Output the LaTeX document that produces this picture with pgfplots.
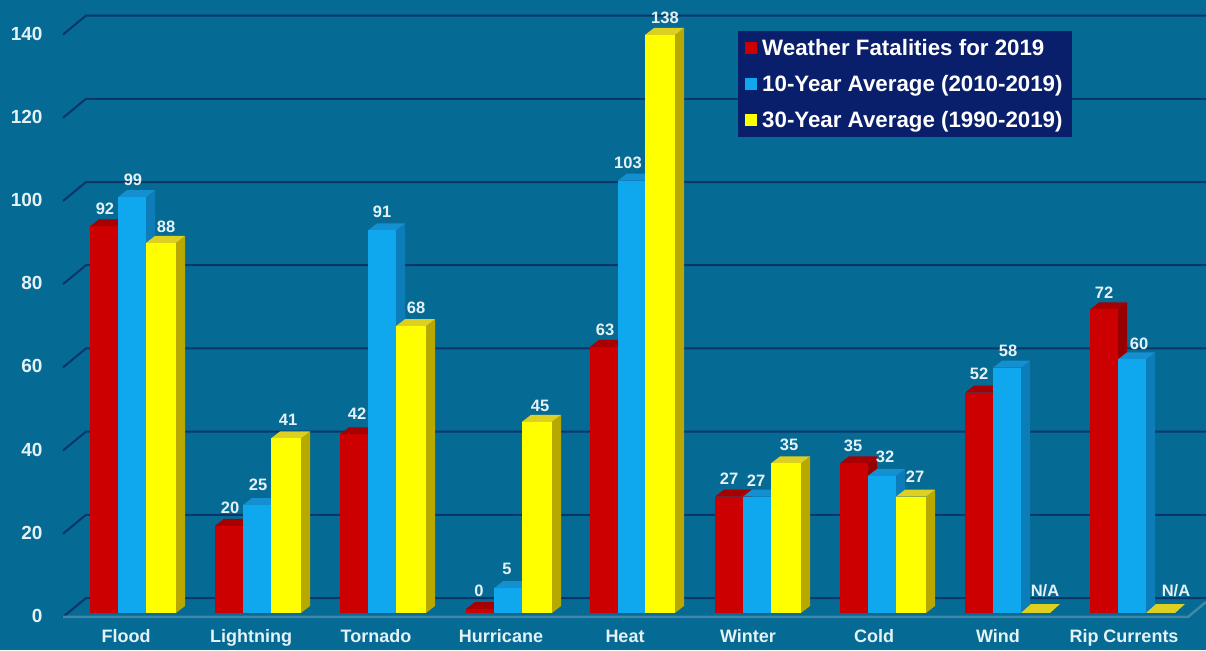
\documentclass[border=0pt]{standalone}
\usepackage{fontspec}
\setmainfont{Liberation Sans}
\usepackage{pgfplots}
\pgfplotsset{compat=1.18}

\definecolor{bgblue}{HTML}{056A94}
\definecolor{gridnavy}{HTML}{0A3568}
\definecolor{floorblue}{HTML}{3F88AA}
\definecolor{legendnavy}{HTML}{0A1F6B}
\definecolor{labelwhite}{HTML}{E4F2F6}
\definecolor{redfront}{HTML}{CC0000}
\definecolor{redside}{HTML}{960000}
\definecolor{redtop}{HTML}{A80000}
\definecolor{bluefront}{HTML}{0FA8EE}
\definecolor{blueside}{HTML}{0C7DB8}
\definecolor{bluetop}{HTML}{1490D0}
\definecolor{yellowfront}{HTML}{FFFF00}
\definecolor{yellowside}{HTML}{B8A800}
\definecolor{yellowtop}{HTML}{DDD020}

% one fake 3d bar: left edge, width, value, colour name
\newcommand{\threedbar}[4]{%
  \pgfmathsetmacro\xa{#1}%
  \pgfmathsetmacro\xb{#1+#2}%
  \pgfmathsetmacro\xc{#1+9}%
  \pgfmathsetmacro\xd{#1+#2+9}%
  \pgfmathsetmacro\yt{#3}%
  \pgfmathsetmacro\yb{#3+1.68}%
  \addplot[forget plot,draw=none,fill=#4side] coordinates {(\xb,-0.96) (\xd,0.72) (\xd,\yb) (\xb,\yt)} -- cycle;
  \addplot[forget plot,draw=none,fill=#4top] coordinates {(\xa,\yt) (\xb,\yt) (\xd,\yb) (\xc,\yb)} -- cycle;
  \addplot[forget plot,draw=none,fill=#4front] coordinates {(\xa,-0.96) (\xb,-0.96) (\xb,\yt) (\xa,\yt)} -- cycle;
}
\newcommand{\gridline}[1]{%
  \pgfmathsetmacro\ya{#1-1.92}%
  \pgfmathsetmacro\yc{#1+2.64}%
  \addplot[forget plot,gridnavy,line width=2pt] coordinates {(63,\ya) (86,\yc) (1206,\yc)};
}
\newcommand{\napad}[1]{%
  \pgfmathsetmacro\xa{#1}%
  \pgfmathsetmacro\xb{#1+29}%
  \pgfmathsetmacro\xc{#1+39}%
  \pgfmathsetmacro\xd{#1+10}%
  \addplot[forget plot,draw=none,fill=yellowtop] coordinates {(\xa,-0.96) (\xb,-0.96) (\xc,1.2) (\xd,1.2)} -- cycle;
}

\pgfplotstableread{
x    y     lab
105  96.2  92
133  103.1 99
166  91.8  88
230  24.3  20
258  29.8  25
288  45.4  41
357  46.9  42
382  95.4  91
416  72.4  68
479  4.3   0
507  9.6   5
540  48.8  45
605  67.1  63
628  107.2 103
665  142.1 138
729  31.3  27
756  30.8  27
789  39.4  35
853  39.2  35
885  36.5  32
915  31.7  27
979  56.5  52
1008 62.0  58
1045 4.3   N/A
1104 76.0  72
1139 63.7  60
1176 4.3   N/A
}\barlabels

\begin{document}
\begin{tikzpicture}
\begin{axis}[
  scale only axis,
  width=1206pt,
  height=650pt,
  xmin=0, xmax=1206,
  ymin=-9.856, ymax=146.394,
  axis background/.style={fill=bgblue},
  axis line style={draw=none},
  major tick length=0pt,
  tick style={draw=none},
  /pgf/number format/assume math mode=true,
  ytick={0,20,...,140},
  ytick pos=left,
  yticklabel style={anchor=east,xshift=46pt,yshift=-7pt,text=labelwhite,
    font=\fontsize{19}{21}\selectfont\bfseries},
  xtick={126,251,376,501,625,748,874,998,1124},
  xticklabels={Flood,Lightning,Tornado,Hurricane,Heat,Winter,Cold,Wind,Rip Currents},
  xtick pos=bottom,
  xticklabel style={anchor=center,yshift=12pt,text height=13pt,text depth=4pt,text=labelwhite,
    font=\fontsize{18}{20}\selectfont\bfseries},
  legend style={at={(738/1206,1-31/650)},anchor=north west,fill=legendnavy,draw=none,
    font=\fontsize{22.3}{24}\selectfont\bfseries,text=white,
    inner xsep=7pt,inner ysep=6pt,row sep=14.5pt,cells={anchor=west}},
  legend image code/.code={\fill[#1] (0pt,-6pt) rectangle (12pt,6pt);\path (15pt,0pt);},
]
\addlegendimage{fill=redfront,draw=none}
\addlegendentry{Weather Fatalities for 2019}
\addlegendimage{fill=bluefront,draw=none}
\addlegendentry{10-Year Average (2010-2019)}
\addlegendimage{fill=yellowfront,draw=none}
\addlegendentry{30-Year Average (1990-2019)}

\gridline{0}\gridline{20}\gridline{40}\gridline{60}
\gridline{80}\gridline{100}\gridline{120}\gridline{140}
\addplot[forget plot,floorblue,line width=2.5pt] coordinates {(63,-1.92) (1188,-1.92) (1206,1.7)};

% Flood
\threedbar{90}{28}{92}{red}\threedbar{118}{28}{99}{blue}\threedbar{146}{30}{88}{yellow}
% Lightning
\threedbar{215}{28}{20}{red}\threedbar{243}{28}{25}{blue}\threedbar{271}{30}{41}{yellow}
% Tornado
\threedbar{340}{28}{42}{red}\threedbar{368}{28}{91}{blue}\threedbar{396}{30}{68}{yellow}
% Hurricane
\threedbar{466}{28}{0}{red}\threedbar{494}{28}{5}{blue}\threedbar{522}{30}{45}{yellow}
% Heat
\threedbar{590}{28}{63}{red}\threedbar{618}{27}{103}{blue}\threedbar{645}{30}{138}{yellow}
% Winter
\threedbar{715}{28}{27}{red}\threedbar{743}{28}{27}{blue}\threedbar{771}{30}{35}{yellow}
% Cold
\threedbar{840}{28}{35}{red}\threedbar{868}{28}{32}{blue}\threedbar{896}{30}{27}{yellow}
% Wind
\threedbar{965}{28}{52}{red}\threedbar{993}{28}{58}{blue}\napad{1021}
% Rip Currents
\threedbar{1090}{28}{72}{red}\threedbar{1118}{28}{60}{blue}\napad{1146}

\addplot[forget plot,draw=none,mark=none,
  nodes near coords,point meta=explicit symbolic,
  every node near coord/.style={anchor=center,inner sep=0pt,text=labelwhite,
    font=\fontsize{16.5}{18}\selectfont\bfseries}]
  table[x=x,y=y,meta=lab] {\barlabels};
\end{axis}
\end{tikzpicture}
\end{document}
